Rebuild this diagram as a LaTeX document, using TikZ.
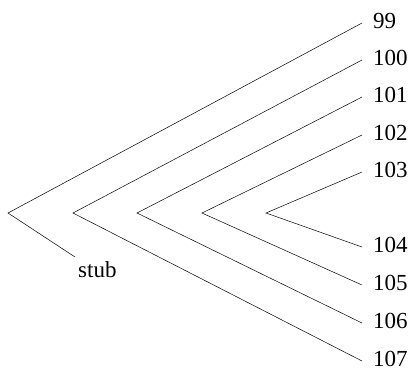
\documentclass[tikz,border=0pt]{standalone}
\usepackage{fontspec}
\setmainfont{Liberation Serif}
\begin{document}
\begin{tikzpicture}[x=1pt,y=-1pt,
  edge/.style={line width=0.5pt},
  leaf/.style={anchor=west,inner sep=0pt,font=\fontsize{23}{25}\selectfont}]
\useasboundingbox (0,0) rectangle (412,370);
% vertices
\coordinate (v1) at (8,213);
\coordinate (v2) at (73,213);
\coordinate (v3) at (137,213);
\coordinate (v4) at (202,213);
\coordinate (v5) at (266,213);
% ends
\coordinate (e99) at (362,23);
\coordinate (e100) at (362,60);
\coordinate (e101) at (362,97);
\coordinate (e102) at (362,135);
\coordinate (e103) at (362,172);
\coordinate (e104) at (362,247);
\coordinate (e105) at (362,285);
\coordinate (e106) at (362,323);
\coordinate (e107) at (362,361);
\coordinate (estub) at (75,257);
% labels
\node[leaf] (l99) at (373,21) {99};
\node[leaf] (l100) at (373,58) {100};
\node[leaf] (l101) at (373,95) {101};
\node[leaf] (l102) at (373,133) {102};
\node[leaf] (l103) at (373,170) {103};
\node[leaf] (l104) at (373,245) {104};
\node[leaf] (l105) at (373,283) {105};
\node[leaf] (l106) at (373,321) {106};
\node[leaf] (l107) at (373,359) {107};
\node[leaf] (lstub) at (78,270) {stub};
% edges
\draw[edge] (e99) -- (v1) -- (estub);
\draw[edge] (e100) -- (v2) -- (e107);
\draw[edge] (e101) -- (v3) -- (e106);
\draw[edge] (e102) -- (v4) -- (e105);
\draw[edge] (e103) -- (v5) -- (e104);
\end{tikzpicture}
\end{document}
